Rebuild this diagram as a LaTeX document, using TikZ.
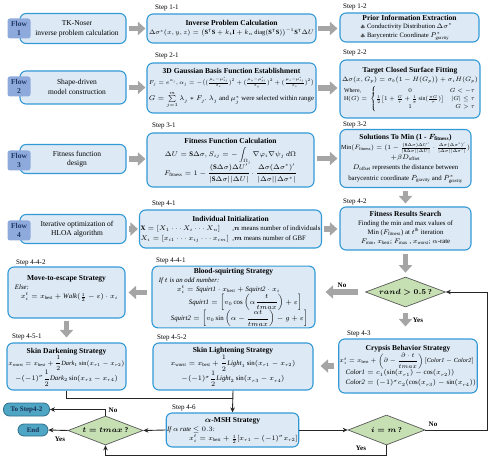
\RequirePackage{fix-cm}
\documentclass[tikz,border=0pt]{standalone}
\usepackage{amsmath,amssymb}
\usepackage{fontspec}
\setmainfont{Liberation Serif}
\usepackage{graphicx}
\usetikzlibrary{shapes.geometric,arrows.meta,calc}
\definecolor{boxblue}{HTML}{3399D6}
\definecolor{boxfill}{HTML}{DDEAF6}
\definecolor{flowfill}{HTML}{8EA9DB}
\definecolor{flowtext}{HTML}{1F3864}
\definecolor{dfill}{HTML}{C6E0B4}
\definecolor{garrow}{HTML}{A5A5A5}
\definecolor{pillfill}{HTML}{4FA6C4}
\definecolor{pillline}{HTML}{2E6E8A}
\renewcommand{\arraystretch}{1.1}
\newcommand\bodyfont{\fontsize{6.8}{8.2}\selectfont}
\newcommand\boxhead[1]{{\fontsize{7.5}{9}\selectfont\bfseries\boldmath #1}}
\newsavebox\fitbox
\newcommand\fitmax[2]{\sbox\fitbox{#2}\ifdim\wd\fitbox>#1\relax\resizebox{#1}{!}{\usebox\fitbox}\else\usebox\fitbox\fi}
\tikzset{
  box/.style={draw=boxblue, fill=boxfill, line width=1.1pt, rounded corners=6pt, inner sep=1pt, align=center, font=\bodyfont},
  flowbox/.style={box, font=\fontsize{7.5}{9}\selectfont},
  flowtag/.style={fill=flowfill, rounded corners=2.5pt, minimum width=23pt, minimum height=20pt, inner sep=0pt, align=center, text=flowtext, font=\fontsize{7.5}{8.5}\selectfont\bfseries},
  steplabel/.style={anchor=base west, inner sep=0pt, font=\fontsize{7}{8}\selectfont},
  garr/.style={draw=garrow, line width=5.5pt, -{Triangle[width=13pt,length=7.5pt]}},
  conn/.style={draw=black!85, line width=0.9pt, -{Stealth[length=5pt,width=4.5pt]}},
  plainline/.style={draw=black!85, line width=0.9pt},
  dec/.style={diamond, aspect=2.6, draw=black!65, fill=dfill, line width=0.7pt, inner sep=0pt, font=\fontsize{7.5}{9}\selectfont\bfseries\boldmath},
  pill/.style={draw=pillline, fill=pillfill, line width=0.8pt, rounded corners=6pt, inner sep=0pt, text=flowtext!80!black, font=\fontsize{7}{8}\selectfont\bfseries},
  lbl/.style={inner sep=0pt, font=\fontsize{7}{8}\selectfont\bfseries}
}
\begin{document}
\begin{tikzpicture}[x=1pt,y=-1pt]
\useasboundingbox (0,0) rectangle (491,460);

% ---------- Flow boxes ----------
\node[flowbox, minimum width=106pt, minimum height=30pt] (f1) at (73,28.5) {\hspace*{8pt}\begin{tabular}{@{}c@{}}TK-Noser\\inverse problem calculation\end{tabular}};
\node[flowtag] (t1) at (19,28.5) {Flow\\1};
\node[flowbox, minimum width=106pt, minimum height=33pt] (f2) at (73,87.5) {\hspace*{8pt}\begin{tabular}{@{}c@{}}Shape-driven\\model construction\end{tabular}};
\node[flowtag] (t2) at (19,86.5) {Flow\\2};
\node[flowbox, minimum width=106pt, minimum height=29pt] (f3) at (73,159) {\hspace*{8pt}\begin{tabular}{@{}c@{}}Fitness function\\design\end{tabular}};
\node[flowtag] (t3) at (19,160.5) {Flow\\3};
\node[flowbox, minimum width=106pt, minimum height=29pt] (f4) at (73,229) {\hspace*{8pt}\begin{tabular}{@{}c@{}}Iterative optimization of\\HLOA algorithm\end{tabular}};
\node[flowtag] (t4) at (19,230.5) {Flow\\4};

% ---------- Step labels ----------
\node[steplabel] (l11) at (155,9.5) {Step 1-1};
\node[steplabel] (l12) at (343,8.5) {Step 1-2};
\node[steplabel] (l21) at (155,58) {Step 2-1};
\node[steplabel] (l22) at (343,55) {Step 2-2};
\node[steplabel] (l31) at (152,128) {Step 3-1};
\node[steplabel] (l32) at (343,126.5) {Step 3-2};
\node[steplabel] (l41) at (152,205.5) {Step 4-1};
\node[steplabel] (l42) at (343,203.5) {Step 4-2};
\node[steplabel] (l441) at (156,262.5) {Step 4-4-1};
\node[steplabel] (l442) at (16,264.5) {Step 4-4-2};
\node[steplabel] (l451) at (12,338.5) {Step 4-5-1};
\node[steplabel] (l452) at (157,339.5) {Step 4-5-2};
\node[steplabel] (l43) at (347,335) {Step 4-3};
\node[steplabel] (l46) at (172,409.5) {Step 4-6};

% ---------- Step boxes ----------
\node[box, minimum width=169pt, minimum height=29pt] (s11) at (231.5,28.5) {\begin{tabular}{@{}c@{}}\boxhead{Inverse Problem Calculation}\\
\fitmax{165pt}{$\Delta\sigma^{*}(x,y,z)=\bigl(\mathbf{S}^{\mathsf{T}}\mathbf{S}+k_t\mathbf{I}+k_n\operatorname{diag}(\mathbf{S}^{\mathsf{T}}\mathbf{S})\bigr)^{-1}\mathbf{S}^{\mathsf{T}}\Delta U$}\end{tabular}};

\node[box, minimum width=139pt, minimum height=29pt, font=\fontsize{6.6}{7.8}\selectfont] (s12) at (409.5,27.5) {\begin{tabular}{@{}l@{}}\multicolumn{1}{c}{\boxhead{Prior Information Extraction}}\\
\hspace*{4pt}{\color{black!70}$\scriptstyle\clubsuit$}\ Conductivity Distribution $\Delta\sigma^{*}$\\[0.5pt]
\hspace*{4pt}{\color{black!70}$\scriptstyle\clubsuit$}\ Barycentric Coordinate $\bar{P}^{*}_{\mathrm{gravity}}$\end{tabular}};

\node[box, minimum width=169pt, minimum height=50pt] (s21) at (231.5,88) {\begin{tabular}{@{}l@{}}\multicolumn{1}{c}{\boxhead{3D Gaussian Basis Function Establishment}}\\[1pt]
\fitmax{165pt}{$F_j=e^{\alpha_j},\alpha_j=-\bigl((\frac{\mu_x-\mu^{*}_{xj}}{\delta_x})^2+(\frac{\mu_y-\mu^{*}_{yj}}{\delta_y})^2+(\frac{\mu_z-\mu^{*}_{zj}}{\delta_z})^2\bigr)$}\\[4.5pt]
\fitmax{165pt}{$G=\sum\limits_{j=1}^{m}\lambda_j*F_j$. $\lambda_j$ and $\mu_j^{*}$ were selected within range}\end{tabular}};

\node[box, minimum width=140pt, minimum height=58pt] (s22) at (410,89) {\begin{tabular}{@{}l@{}}\multicolumn{1}{c}{\boxhead{Target Closed Surface Fitting}}\\
\fitmax{136pt}{$\Delta\sigma(x,G_p)=\sigma_b\bigl(1-H(G_p)\bigr)+\sigma_i H(G_p)$}\\[2.5pt]
\hspace*{2pt}\fitmax{132pt}{$\begin{array}{@{}l@{}}\text{Where,}\vphantom{0}\\ \mathrm{H}(G)=\vphantom{\frac{1}{2}\bigl[\frac{G}{\tau}\frac{\pi G}{\tau}\bigr]}\\ \vphantom{1}\end{array}\left\{\begin{array}{@{}c@{\quad}r@{}}0 & G<-\tau\\ \frac{1}{2}\bigl[1+\frac{G}{\tau}+\frac{1}{\pi}\sin(\frac{\pi G}{\tau})\bigr] & |G|\le\tau\\ 1 & G>\tau\end{array}\right.$}\end{tabular}};

\node[box, minimum width=167pt, minimum height=54pt] (s31) at (230.5,160) {\begin{tabular}{@{}c@{}}\boxhead{Fitness Function Calculation}\\[1pt]
$\Delta U=\mathbf{S}\Delta\sigma, S_{ij}=-\displaystyle\int_{\Omega_j}\nabla\varphi_i\nabla\psi_j\,d\Omega$\\[2pt]
$F_{\mathrm{fitness}}=1-\dfrac{(\mathbf{S}\Delta\sigma)\Delta U'}{|\mathbf{S}\Delta\sigma||\Delta U|}\cdot\dfrac{\Delta\sigma(\Delta\sigma^{*})'}{|\Delta\sigma||\Delta\sigma^{*}|}$\end{tabular}};

\node[box, minimum width=131pt, minimum height=58pt] (s32) at (405.5,158.5) {\begin{tabular}{@{}c@{}}\boxhead{Solutions To Min (1 - $F_{\mathrm{fitness}}$)}\\[1pt]
\fitmax{129pt}{$\mathrm{Min}(F_{\mathrm{fitness}})=(1-\frac{(\mathbf{S}\Delta\sigma)\Delta U'}{|\mathbf{S}\Delta\sigma||\Delta U|}\cdot\frac{\Delta\sigma(\Delta\sigma^{*})'}{|\Delta\sigma||\Delta\sigma^{*}|})$}\\[1pt]
$+\beta D_{\mathrm{offset}}$\\[1pt]
\fitmax{127pt}{$D_{\mathrm{offset}}$ represents the distance between}\\[2pt]
\fitmax{129pt}{barycentric coordinate $\bar{P}_{\mathrm{gravity}}$ and $\bar{P}^{*}_{\mathrm{gravity}}$}\end{tabular}};

\node[box, minimum width=167pt, minimum height=38pt] (s41) at (230.5,229) {\begin{tabular}{@{}l@{}l@{}}\multicolumn{2}{c}{\boxhead{Individual Initialization}}\\
$\mathbf{X}=[X_1\cdots X_i\cdots X_n]$ & \ \ ,$\boldsymbol{n}$ means number of individuals\\[1pt]
$X_i=[x_{i1}\cdots x_{ij}\cdots x_{im}]$ & \ \ ,$\boldsymbol{m}$ means number of GBF\end{tabular}};

\node[box, minimum width=131pt, minimum height=43pt] (s42) at (405.5,228.5) {\begin{tabular}{@{}c@{}}\boxhead{Fitness Results Search}\\
Finding the min and max values of\\
Min ($F_{\mathrm{fitness}}$)\ at $t^{\mathrm{th}}$ iteration\\
$F_{\min}$, $x_{\mathrm{best}}$; $F_{\max}$ , $x_{\mathrm{worst}}$; $\alpha$-rate\end{tabular}};

\node[dec, minimum width=80pt, minimum height=30pt] (dr) at (405.5,292) {$rand>0.5$ ?};

\node[box, minimum width=163pt, minimum height=60pt] (s441) at (233.5,297) {\begin{tabular}{@{}l@{}}\multicolumn{1}{c}{\boxhead{Blood-squirting Strategy}}\\
\textit{If $t$ is an odd number:}\\
\hspace*{18pt}$x_i^t=\mathit{Squirt1}\cdot x_{\mathrm{best}}+\mathit{Squirt2}\cdot x_i$\\
\hspace*{30pt}$\mathit{Squirt1}=\left[v_0\cos\left(\alpha\dfrac{t}{tmax}\right)+\varepsilon\right]$\\
\hspace*{12pt}$\mathit{Squirt2}=\left[v_0\sin\left(\alpha-\dfrac{\alpha t}{tmax}\right)-g+\varepsilon\right]$\end{tabular}};

\node[box, minimum width=117pt, minimum height=51pt] (s442) at (66.5,292.5) {\begin{tabular}{@{}l@{}}\multicolumn{1}{c}{\boxhead{Move-to-escape Strategy}}\\
\textit{Else:}\\
\hspace*{6pt}$x_i^t=x_{\mathrm{best}}+\mathit{Walk}(\frac{1}{2}-\varepsilon)\cdot x_i$\rule[-12pt]{0pt}{12pt}\end{tabular}};

\node[box, minimum width=119pt, minimum height=47pt] (s451) at (66.5,366.5) {\begin{tabular}{@{}c@{}}\boxhead{Skin Darkening Strategy}\\
\fitmax{116pt}{$x_{\mathrm{worst}}=x_{\mathrm{best}}+\dfrac{1}{2}\mathit{Dark}_1\sin(x_{r1}-x_{r2})$}\\[1pt]
\fitmax{104pt}{$-(-1)^{\sigma}\dfrac{1}{2}\mathit{Dark}_2\sin(x_{r3}-x_{r4})$}\end{tabular}};

\node[box, minimum width=160pt, minimum height=47pt] (s452) at (233,366.5) {\begin{tabular}{@{}c@{}}\boxhead{Skin Lightening Strategy}\\
$x_{\mathrm{worst}}=x_{\mathrm{best}}+\dfrac{1}{2}\mathit{Light}_1\sin(x_{r1}-x_{r2})$\\[1pt]
$-(-1)^{\sigma}\dfrac{1}{2}\mathit{Light}_2\sin(x_{r3}-x_{r4})$\end{tabular}};

\node[box, minimum width=138pt, minimum height=54pt] (s43) at (408,366) {\begin{tabular}{@{}l@{}}\multicolumn{1}{c}{\boxhead{Crypsis Behavior Strategy}}\\
\fitmax{134pt}{$x_i^t=x_{\mathrm{best}}+\left(\partial-\dfrac{\partial\cdot t}{tmax}\right)[\mathit{Color1}-\mathit{Color2}]$}\\[1pt]
\hspace*{6pt}$\mathit{Color1}=c_1(\sin(x_{r1})-\cos(x_{r2}))$\\[1pt]
\hspace*{6pt}$\mathit{Color2}=(-1)^{\sigma}c_2(\cos(x_{r3})-\sin(x_{r4}))$\end{tabular}};

\node[box, minimum width=131pt, minimum height=34pt] (s46) at (232.5,430) {\begin{tabular}{@{}l@{}}\multicolumn{1}{c}{\boxhead{$\alpha$-MSH Strategy}}\\
\textit{If $\alpha$ rate $\le 0.3$:}\\
\hspace*{22pt}$x_i^t=x_{\mathrm{best}}+\frac{1}{2}[x_{r1}-(-1)^{\sigma}x_{r2}]$\end{tabular}};

\node[dec, minimum width=75pt, minimum height=29pt] (dt) at (105.5,430.5) {$t=tmax$ ?};
\node[dec, minimum width=77pt, minimum height=30pt] (di) at (386.5,430) {$i=m$ ?};
\node[pill, minimum width=46pt, minimum height=13pt] (tostep) at (26.5,409.5) {To Step4-2};
\node[pill, minimum width=30pt, minimum height=12pt] (endn) at (33,430) {End};

% ---------- gray block arrows ----------
\draw[garr, shorten <=2pt, shorten >=1pt] (f1.east) -- (f1.east -| s11.west);
\draw[garr, shorten <=2pt, shorten >=1pt] (f2.east) -- (f2.east -| s21.west);
\draw[garr, shorten <=2pt, shorten >=1pt] (f3.east) -- (f3.east -| s31.west);
\draw[garr, shorten <=2pt, shorten >=1pt] (f4.east) -- (f4.east -| s41.west);
\draw[garr, shorten <=1pt, shorten >=2pt] (s11.east) -- (s11.east -| s12.west);
\draw[garr, shorten <=1pt, shorten >=2pt] (s21.east) -- (s21.east -| s22.west);
\draw[garr, shorten <=2pt, shorten >=2pt] (s31.east |- s32.west) -- (s32.west);
\draw[garr, shorten <=2pt, shorten >=2pt] (s41.east) -- (s41.east -| s42.west);
\draw[garr, shorten <=3pt, shorten >=3pt] (s32.south) -- (s42.north);
\draw[garr, shorten <=3pt, shorten >=4pt] (s42.south) -- (dr.north);
\draw[garr, shorten <=7pt, shorten >=10pt] (dr.west) -- (dr.west -| s441.east);
\draw[garr, shorten <=6pt, shorten >=12pt] (dr.south) -- (dr.south |- s43.north);
\draw[garr, shorten <=4pt, shorten >=3pt] (s441.west |- s442.east) -- (s442.east);
\draw[garr, shorten <=2pt, shorten >=5pt] (s442.south) -- (s442.south |- s451.north);
\draw[garr, shorten <=4pt, shorten >=7pt] (s43.west) -- (s43.west -| s452.east);

% ---------- thin connectors ----------
\coordinate (m1) at ($(s452.south)!0.38!(s46.north)$);
\draw[plainline] (s451.south) |- (m1);
\draw[conn] (s452.south) -- (s46.north);
\draw[conn] (s46.west) -- (dt.east);
\draw[conn] (s46.east) -- (di.west);
\coordinate (rx) at (487,430);
\draw[conn] (di.east) -- (rx) |- (dr.east);
\coordinate (bl) at (386.5,455.5);
\draw[conn] (di.south) -- (bl) -| (dt.south);
\draw[conn] (dt.north) |- (tostep.east);
\draw[conn] (dt.west) -- (endn.east);

% ---------- connector labels ----------
\node[lbl] (nodr) at (342,285.5) {No};
\node[lbl] (yesdr) at (418,320) {Yes};
\node[lbl] (nodi) at (433,424.5) {No};
\node[lbl] (yesdi) at (361,448) {Yes};
\node[lbl] (nodt) at (113,410.5) {No};
\node[lbl] (yesdt) at (60,439) {Yes};
\end{tikzpicture}
\end{document}
